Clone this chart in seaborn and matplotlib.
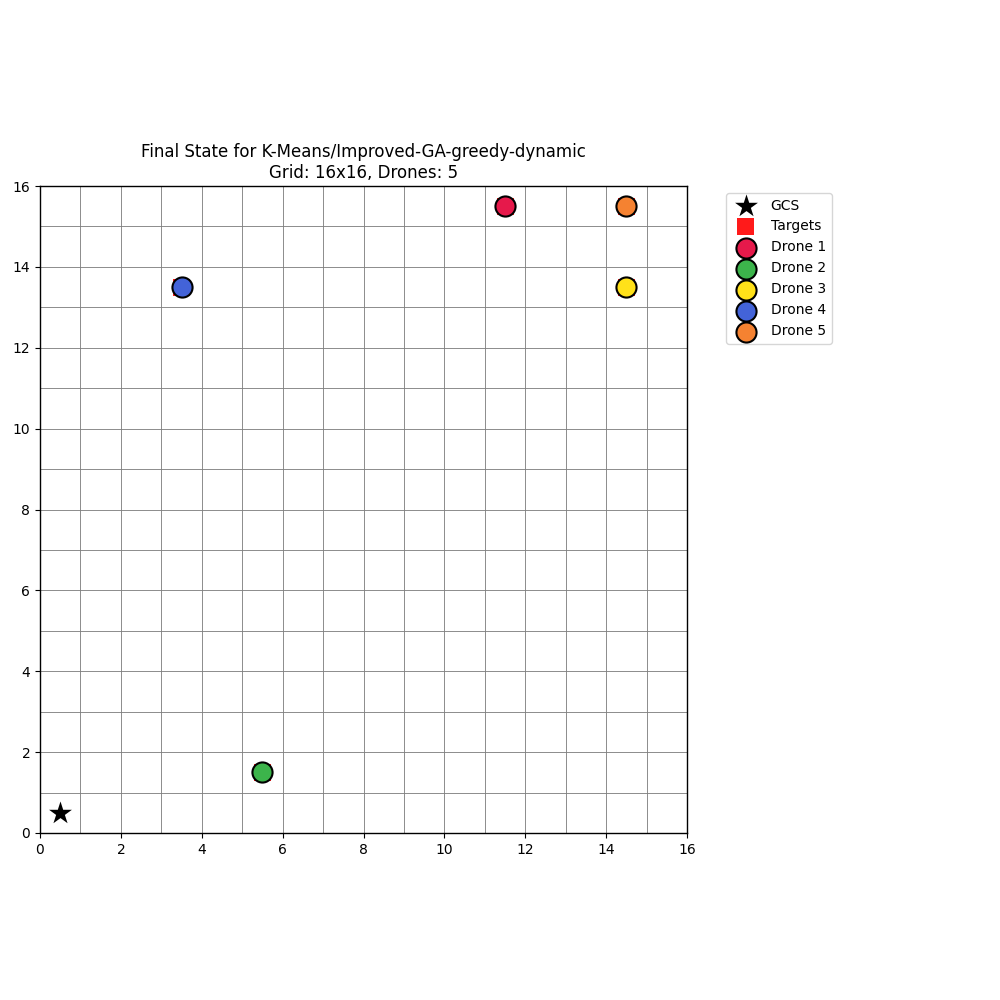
import matplotlib
matplotlib.use("Agg")
import matplotlib.pyplot as plt
import seaborn as sns
import pandas as pd

grid_size = 16
gcs_x = [0.5]
gcs_y = [0.5]
target_x = [11.5, 5.5, 14.5, 3.5, 14.5]
target_y = [15.5, 1.5, 13.5, 13.5, 15.5]
drone_names = ["Drone 1", "Drone 2", "Drone 3", "Drone 4", "Drone 5"]
drone_x = [11.5, 5.5, 14.5, 3.5, 14.5]
drone_y = [15.5, 1.5, 13.5, 13.5, 15.5]
drone_colors = ["#e6194b", "#3cb44b", "#ffe119", "#4363d8", "#f58231"]

sns.set_style("white")
plt.rcParams['font.family'] = ['DejaVu Sans']
plt.rcParams['text.color'] = 'black'
plt.rcParams['xtick.color'] = 'black'
plt.rcParams['ytick.color'] = 'black'
plt.rcParams['axes.labelcolor'] = 'black'

fig = plt.figure(figsize=(10, 10), dpi=100)
ax = fig.add_axes([0.04, 0.167, 0.647, 0.647])

ax.set_xticks(range(0, grid_size + 1, 1), minor=True)
ax.set_yticks(range(0, grid_size + 1, 1), minor=True)
ax.set_xticks(range(0, grid_size + 1, 2))
ax.set_yticks(range(0, grid_size + 1, 2))
ax.grid(True, which='both', color='gray', linewidth=0.7, alpha=0.9)
ax.set_axisbelow(True)

sns.scatterplot(x=gcs_x, y=gcs_y, marker='*', s=300, color='black', edgecolor='black',
                linewidth=0, label='GCS', ax=ax, zorder=5)
sns.scatterplot(x=target_x, y=target_y, marker='s', s=150, color='#ff1a1a', edgecolor='none',
                linewidth=0, label='Targets', ax=ax, zorder=4)
for name, x, y, c in zip(drone_names, drone_x, drone_y, drone_colors):
    sns.scatterplot(x=[x], y=[y], marker='o', s=210, color=c, edgecolor='black',
                    linewidth=1.5, label=name, ax=ax, zorder=6)

ax.set_xlim(0, grid_size)
ax.set_ylim(0, grid_size)
ax.set_aspect('equal')
for sp in ax.spines.values():
    sp.set_color('black')
    sp.set_linewidth(1.0)
ax.tick_params(axis='both', which='major', length=3.5, width=0.8, bottom=True, left=True,
               labelsize=10, colors='black')
ax.tick_params(axis='both', which='minor', length=0)
ax.set_title("Final State for K-Means/Improved-GA-greedy-dynamic\nGrid: 16x16, Drones: 5",
             fontsize=12, color='black')
leg = ax.legend(loc='upper left', bbox_to_anchor=(1.05, 1), fontsize=10, frameon=True)
for t in leg.get_texts():
    t.set_color('black')

fig.savefig("out.png", dpi=100)
